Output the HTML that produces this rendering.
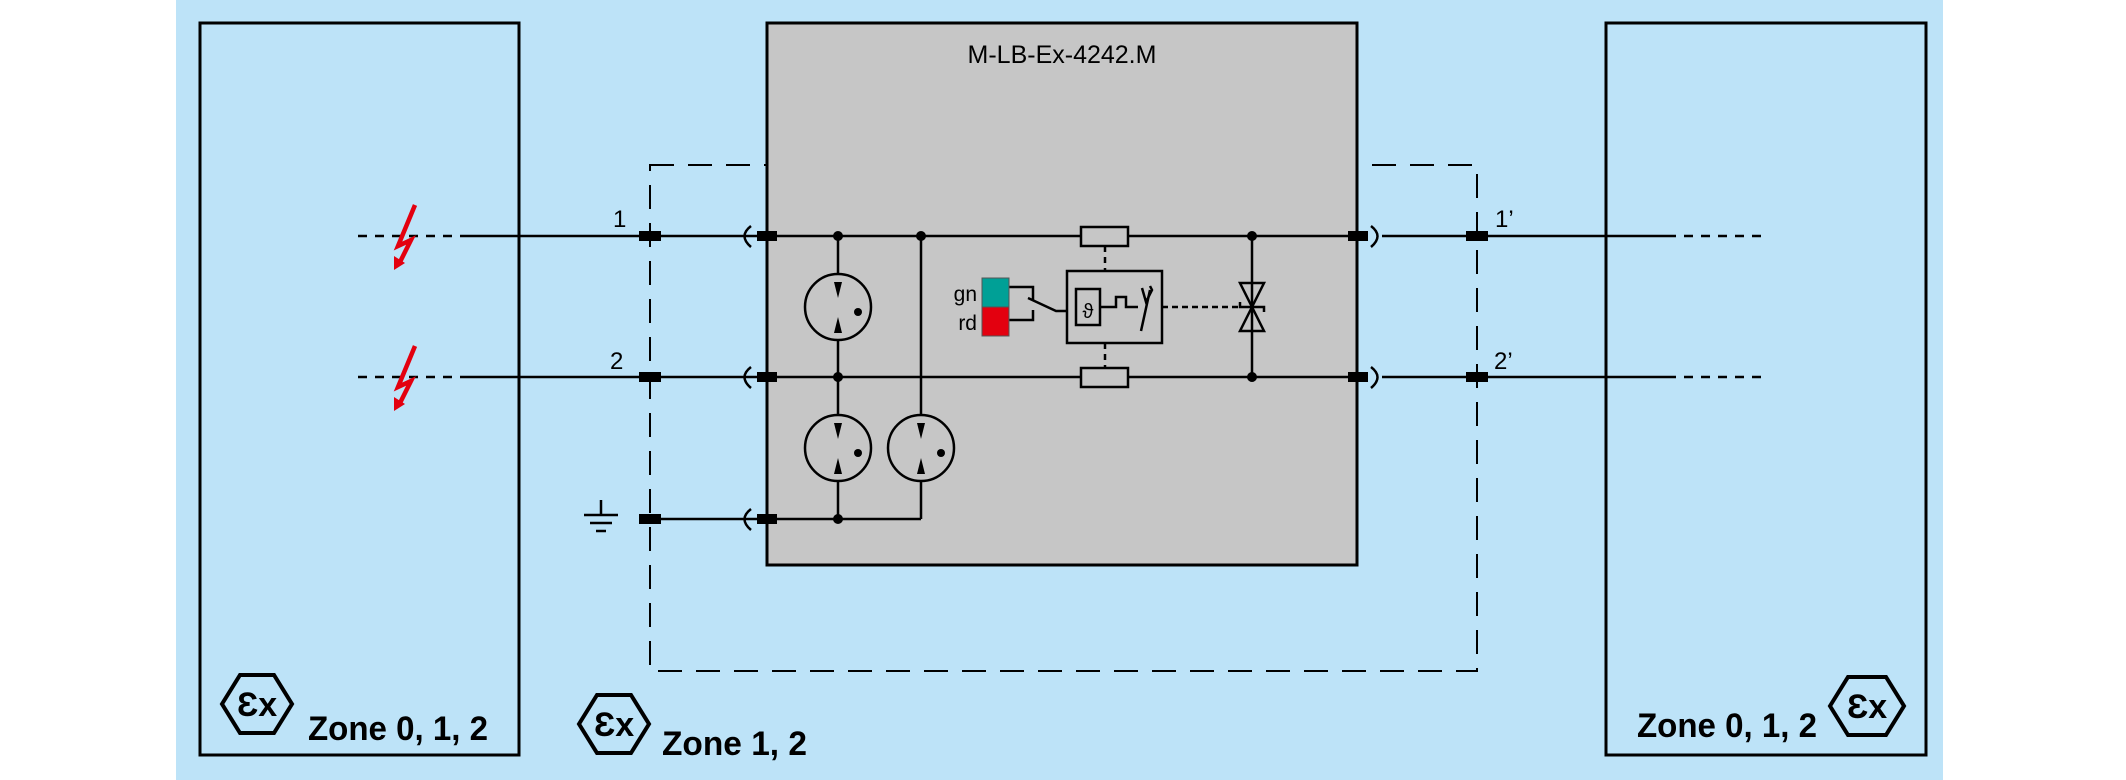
<!DOCTYPE html>
<html><head><meta charset="utf-8"><style>
html,body{margin:0;padding:0;background:#fff;}
svg{display:block;}
text{font-family:"Liberation Sans",sans-serif;}
</style></head><body>
<svg width="2126" height="780" viewBox="0 0 2126 780" xmlns="http://www.w3.org/2000/svg">
<rect x="176" y="0" width="1767" height="780" fill="#bde3f8"/>
<rect x="200" y="23" width="319" height="732" fill="none" stroke="#000" stroke-width="3"/>
<rect x="1606" y="23" width="320" height="732" fill="none" stroke="#000" stroke-width="3"/>
<rect x="650" y="165" width="827" height="506" fill="none" stroke="#000" stroke-width="2" stroke-dasharray="24,14"/>
<rect x="767" y="23" width="590" height="542" fill="#c6c6c6" stroke="#000" stroke-width="3"/>
<text x="1062" y="63" font-size="25" text-anchor="middle">M-LB-Ex-4242.M</text>
<g stroke="#000" stroke-width="2.5" fill="none">
<line x1="358" y1="236" x2="461" y2="236" stroke-dasharray="9,8"/>
<line x1="358" y1="377" x2="461" y2="377" stroke-dasharray="9,8"/>
<line x1="461" y1="236" x2="1357" y2="236"/>
<line x1="461" y1="377" x2="1357" y2="377"/>
<line x1="650" y1="519" x2="838" y2="519"/>
<line x1="838" y1="519" x2="921" y2="519"/>
<line x1="921" y1="519" x2="921" y2="236"/>
<line x1="838" y1="236" x2="838" y2="519"/>
<path d="M751 226 Q738 236 751 247"/>
<path d="M751 367 Q738 377 751 388"/>
<path d="M751 509 Q738 519 751 530"/>
<path d="M1371 226 Q1384 236 1371 247"/>
<path d="M1371 367 Q1384 377 1371 388"/>
<line x1="1382" y1="236" x2="1667" y2="236"/>
<line x1="1382" y1="377" x2="1667" y2="377"/>
<line x1="1667" y1="236" x2="1767" y2="236" stroke-dasharray="9,8"/>
<line x1="1667" y1="377" x2="1767" y2="377" stroke-dasharray="9,8"/>
<circle cx="838" cy="307" r="33" fill="#c6c6c6"/>
<circle cx="838" cy="448" r="33" fill="#c6c6c6"/>
<circle cx="921" cy="448" r="33" fill="#c6c6c6"/>
<rect x="1081" y="227" width="47" height="19" fill="#c6c6c6"/>
<rect x="1081" y="368" width="47" height="19" fill="#c6c6c6"/>
<line x1="1105" y1="246" x2="1105" y2="271" stroke-dasharray="6,5"/>
<line x1="1105" y1="343" x2="1105" y2="368" stroke-dasharray="6,5"/>
<rect x="1067" y="271" width="95" height="72"/>
<rect x="1076" y="289" width="24" height="36"/>
<path d="M1100 307 H1116 V297 H1126 V307 H1138"/>
<path d="M1141 331 L1150 290"/>
<path d="M1142 288 L1146 302 L1152 290 L1150 286"/>
<line x1="1162" y1="307" x2="1240" y2="307" stroke-dasharray="6,4"/>
<path d="M1009 287 H1033 V300"/>
<path d="M1028 298 L1056 311 H1067"/>
<path d="M1009 320 H1033 V310"/>
<line x1="1252" y1="236" x2="1252" y2="377"/>
<path d="M1240 283 H1264 L1240 331 H1264 Z"/>
<path d="M1240 302 V307 H1264 V312"/>
<line x1="601" y1="500" x2="601" y2="515"/>
<line x1="584" y1="515" x2="618" y2="515"/>
<line x1="590" y1="523" x2="612" y2="523"/>
<line x1="596" y1="531" x2="606" y2="531"/>
</g>
<g fill="#000">
<path d="M834 282 L842 282 L838 298 Z"/><path d="M834 333 L842 333 L838 317 Z"/><circle cx="858" cy="312" r="4"/>
<path d="M834 423 L842 423 L838 439 Z"/><path d="M834 474 L842 474 L838 458 Z"/><circle cx="858" cy="453" r="4"/>
<path d="M917 423 L925 423 L921 439 Z"/><path d="M917 474 L925 474 L921 458 Z"/><circle cx="941" cy="453" r="4"/>
<circle cx="838" cy="236" r="5"/><circle cx="921" cy="236" r="5"/><circle cx="838" cy="377" r="5"/><circle cx="838" cy="519" r="5"/>
<circle cx="1252" cy="236" r="5"/><circle cx="1252" cy="377" r="5"/>
<rect x="639" y="231" width="22" height="10"/><rect x="639" y="372" width="22" height="10"/><rect x="639" y="514" width="22" height="10"/>
<rect x="757" y="231" width="20" height="10"/><rect x="757" y="372" width="20" height="10"/><rect x="757" y="514" width="20" height="10"/>
<rect x="1348" y="231" width="20" height="10"/><rect x="1348" y="372" width="20" height="10"/>
<rect x="1466" y="231" width="22" height="10"/><rect x="1466" y="372" width="22" height="10"/>
</g>
<rect x="982" y="278" width="27" height="29" fill="#00a096" stroke="#555" stroke-width="1"/>
<rect x="982" y="307" width="27" height="29" fill="#e3000f" stroke="#555" stroke-width="1"/>
<text x="977" y="301" font-size="21" text-anchor="end">gn</text>
<text x="977" y="330" font-size="21" text-anchor="end">rd</text>
<text x="1088" y="318" font-size="20" text-anchor="middle">ϑ</text>
<g fill="none" stroke="#e3000f" stroke-width="4.5" stroke-linejoin="miter">
<path d="M415 205 L398 246 L411 240 L400 262"/>
<path d="M415 346 L398 387 L411 381 L400 403"/>
</g>
<g fill="#e3000f"><path d="M394 256 L405 263 L394 270 Z"/><path d="M394 397 L405 404 L394 411 Z"/></g>
<g font-size="24">
<text x="613" y="227">1</text><text x="610" y="369">2</text>
<text x="1495" y="227">1’</text><text x="1494" y="369">2’</text>
</g>
<g fill="none" stroke="#000" stroke-width="4">
<path d="M222 704 L240 675 L274 675 L292 704 L274 733 L240 733 Z"/>
<path d="M579 724 L597 695 L631 695 L649 724 L631 753 L597 753 Z"/>
<path d="M1830 706 L1848 677 L1886 677 L1904 706 L1886 735 L1848 735 Z"/>
</g>
<g font-weight="bold">
<text x="257" y="716" text-anchor="middle" font-size="34">Ɛx</text>
<text x="614" y="736" text-anchor="middle" font-size="34">Ɛx</text>
<text x="1867" y="718" text-anchor="middle" font-size="34">Ɛx</text>
<text x="308" y="740" font-size="34" textLength="180" lengthAdjust="spacingAndGlyphs">Zone 0, 1, 2</text>
<text x="662" y="755" font-size="34" textLength="145" lengthAdjust="spacingAndGlyphs">Zone 1, 2</text>
<text x="1637" y="737" font-size="34" textLength="180" lengthAdjust="spacingAndGlyphs">Zone 0, 1, 2</text>
</g>
</svg>
</body></html>
